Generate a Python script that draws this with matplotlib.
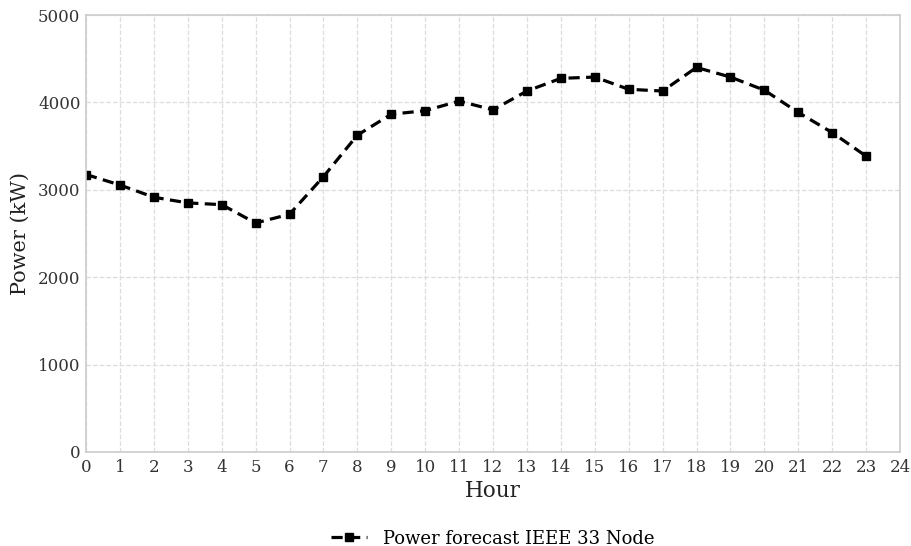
import matplotlib
matplotlib.use("Agg")
import matplotlib.pyplot as plt

hours = list(range(24))
power = [3175, 3055, 2915, 2850, 2830, 2620, 2720, 3150, 3625, 3865,
         3905, 4015, 3915, 4130, 4275, 4290, 4150, 4130, 4400, 4290,
         4140, 3885, 3655, 3385]
series_label = "Power forecast IEEE 33 Node"
x_ticks = list(range(25))
y_ticks = [0, 1000, 2000, 3000, 4000, 5000]

plt.rcParams['font.family'] = ['DejaVu Serif']

fig = plt.figure(figsize=(9.12, 5.46), dpi=100)
ax = fig.add_axes([86/912, 1-452/546, (900-86)/912, (452-15)/546])

ax.plot(hours, power, linestyle='--', color='black', linewidth=2.3,
        marker='s', markersize=6, label=series_label, dashes=(3.5, 2))

ax.set_xlim(0, 24)
ax.set_ylim(0, 5000)
ax.set_xticks(x_ticks)
ax.set_yticks(y_ticks)
ax.tick_params(axis='both', length=0, labelsize=12, colors='#333333')
ax.tick_params(axis='x', pad=5)
ax.tick_params(axis='y', pad=4)
ax.grid(True, linestyle='--', color='#dddddd', linewidth=0.9)
ax.set_axisbelow(True)
for s in ax.spines.values():
    s.set_color('#cccccc')
    s.set_linewidth(1.2)

ax.set_xlabel("Hour", fontsize=15.5, color='#222222', labelpad=3)
ax.set_ylabel("Power (kW)", fontsize=15, color='#222222', labelpad=6)

ax.legend(loc='center', bbox_to_anchor=(0.5, -0.198), frameon=False,
          fontsize=13, handlelength=2.0, handletextpad=0.9)

fig.savefig("out.png", dpi=100)
